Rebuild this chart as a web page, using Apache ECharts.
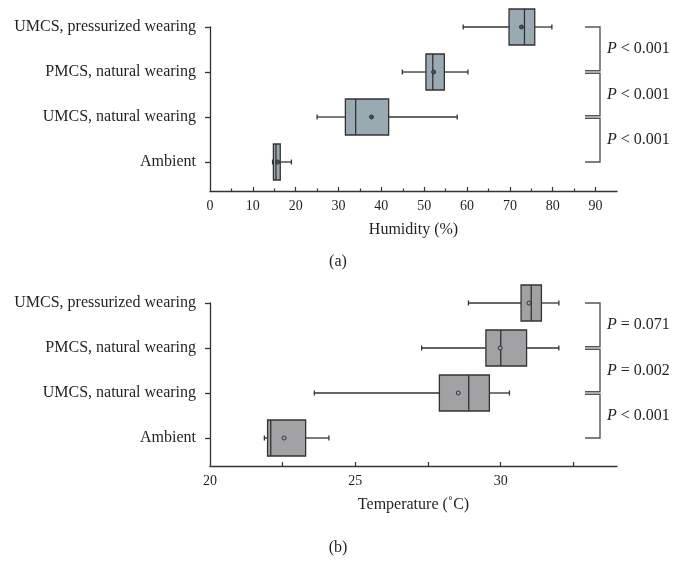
<!DOCTYPE html>
<html><head><meta charset="utf-8">
<script src="https://cdn.jsdelivr.net/npm/echarts@6/dist/echarts.min.js"></script>
<style>html,body{margin:0;padding:0;background:#fff}#c{width:683px;height:569px}</style>
</head><body><div id="c"></div>
<script>
// Categories, bottom to top (y value 1..4)
const categories = ['Ambient', 'UMCS, natural wearing', 'PMCS, natural wearing', 'UMCS, pressurized wearing'];
const catValues = [1, 2, 3, 4];

// (a) Humidity (%)
const humLow  = [14.6, 25.0, 44.9, 59.1];
const humQ1   = [14.8, 31.6, 50.4, 69.8];
const humMed  = [15.4, 34.0, 52.0, 73.4];
const humQ3   = [16.4, 41.7, 54.7, 75.8];
const humHigh = [19.0, 57.7, 60.2, 79.8];
const humMean = [15.8, 37.7, 52.2, 72.7];
const humTicks = [0, 10, 20, 30, 40, 50, 60, 70, 80, 90];
const humMinorTicks = [5, 15, 25, 35, 45, 55, 65, 75, 85];
const humP = ['< 0.001', '< 0.001', '< 0.001']; // brackets bottom to top

// (b) Temperature (°C)
const tmpLow  = [21.87, 23.59, 27.28, 28.89];
const tmpQ1   = [21.98, 27.89, 29.49, 30.70];
const tmpMed  = [22.09, 28.90, 30.00, 31.05];
const tmpQ3   = [23.29, 29.61, 30.89, 31.40];
const tmpHigh = [24.09, 30.30, 32.00, 32.00];
const tmpMean = [22.55, 28.54, 29.98, 30.97];
const tmpTicks = [20, 25, 30];
const tmpMinorTicks = [22.5, 27.5, 32.5];
const tmpP = ['< 0.001', '= 0.002', '= 0.071'];

const FONT = 'Liberation Serif';
const TXT = '#231f20';
const LINE = '#333333';

function boxData(lo, q1, med, q3, hi, mean) {
  return catValues.map((c, i) => [c, lo[i], q1[i], med[i], q3[i], hi[i], mean[i]]);
}
function bracketData(labels) {
  return labels.map((s, i) => [catValues[i], catValues[i + 1], i]);
}

function boxRender(fill, meanFill) {
  return function (params, api) {
    const c = api.value(0);
    const p = [1, 2, 3, 4, 5, 6].map(k => api.coord([api.value(k), c]));
    const y = p[0][1];
    const h = api.size([0, 1])[1] * 0.4;
    const ls = { stroke: LINE, lineWidth: 1.3 };
    return {
      type: 'group', children: [
        { type: 'line', shape: { x1: p[0][0], y1: y, x2: p[1][0], y2: y }, style: ls },
        { type: 'line', shape: { x1: p[3][0], y1: y, x2: p[4][0], y2: y }, style: ls },
        { type: 'line', shape: { x1: p[0][0], y1: y - 2.5, x2: p[0][0], y2: y + 2.5 }, style: ls },
        { type: 'line', shape: { x1: p[4][0], y1: y - 2.5, x2: p[4][0], y2: y + 2.5 }, style: ls },
        { type: 'rect', shape: { x: p[1][0], y: y - h, width: p[3][0] - p[1][0], height: 2 * h }, style: { fill: fill, stroke: LINE, lineWidth: 1.3 } },
        { type: 'line', shape: { x1: p[2][0], y1: y - h, x2: p[2][0], y2: y + h }, style: ls },
        { type: 'circle', shape: { cx: p[5][0], cy: y, r: 2 }, style: { fill: meanFill, stroke: LINE, lineWidth: 1 } }
      ]
    };
  };
}

function bracketRender(labels) {
  return function (params, api) {
    const lo = api.value(0), hi = api.value(1), idx = api.value(2);
    const cs = params.coordSys;
    const right = cs.x + cs.width;
    const vx = right - 17;
    const ax = right - 32;
    const yBot = api.coord([0, lo])[1] - (idx === 0 ? 0 : 1.2);
    const yTop = api.coord([0, hi])[1] + (idx === labels.length - 1 ? 0 : 1.2);
    return {
      type: 'group', children: [
        { type: 'polyline', shape: { points: [[ax, yTop], [vx, yTop], [vx, yBot], [ax, yBot]] }, style: { fill: 'none', stroke: '#555', lineWidth: 1.4 } },
        { type: 'text', x: vx + 7, y: (yTop + yBot) / 2, style: {
            text: '{i|P} ' + labels[idx], fill: TXT, fontFamily: FONT, fontSize: 16,
            verticalAlign: 'middle', align: 'left',
            rich: { i: { fontStyle: 'italic', fontFamily: FONT, fontSize: 16, fill: TXT } }
          } }
      ]
    };
  };
}

function yAxis(gi, min) {
  return {
    type: 'value', gridIndex: gi, min: min, max: 4,
    axisLine: { show: true, lineStyle: { color: LINE, width: 1.3 } },
    axisTick: { show: true, inside: false, length: 5, customValues: catValues, lineStyle: { color: LINE, width: 1.3 } },
    axisLabel: { show: true, customValues: catValues, margin: 14, color: TXT, fontFamily: FONT, fontSize: 16,
      formatter: v => categories[Math.round(v) - 1] || '' },
    splitLine: { show: false }
  };
}
function xAxisMain(gi, min, max, ticks, name) {
  return {
    type: 'value', gridIndex: gi, min: min, max: max, position: 'bottom',
    name: name, nameLocation: 'middle', nameGap: 31,
    nameTextStyle: { color: TXT, fontFamily: FONT, fontSize: 16 },
    axisLine: { show: true, onZero: false, lineStyle: { color: LINE, width: 1.3 } },
    axisTick: { show: true, inside: true, length: 4, customValues: ticks.slice(1), lineStyle: { color: LINE, width: 1.2 } },
    axisLabel: { show: true, customValues: ticks, margin: 8, color: TXT, fontFamily: FONT, fontSize: 14 },
    splitLine: { show: false }
  };
}
function xAxisMinor(gi, min, max, ticks, len) {
  return {
    type: 'value', gridIndex: gi, min: min, max: max, position: 'bottom',
    axisLine: { show: false, onZero: false },
    axisTick: { show: true, inside: true, length: len, customValues: ticks, lineStyle: { color: LINE, width: 1.2 } },
    axisLabel: { show: false },
    splitLine: { show: false }
  };
}

const chart = echarts.init(document.getElementById('c'), null, { renderer: 'canvas' });
chart.setOption({
  animation: false,
  backgroundColor: '#ffffff',
  grid: [
    { left: 210, top: 27, width: 407, height: 164 },
    { left: 210, top: 303, width: 407, height: 163 }
  ],
  xAxis: [
    xAxisMain(0, 0, 95, humTicks, 'Humidity (%)'),
    xAxisMinor(0, 0, 95, humMinorTicks, 2.5),
    xAxisMain(1, 20, 34, tmpTicks, 'Temperature (\u02DAC)'),
    xAxisMinor(1, 20, 34, tmpMinorTicks, 4)
  ],
  yAxis: [yAxis(0, 0.356), yAxis(1, 0.378)],
  graphic: [
    { type: 'text', x: 338, y: 262, style: { text: '(a)', fill: TXT, fontFamily: FONT, fontSize: 16, align: 'center', verticalAlign: 'middle' } },
    { type: 'text', x: 338, y: 548, style: { text: '(b)', fill: TXT, fontFamily: FONT, fontSize: 16, align: 'center', verticalAlign: 'middle' } }
  ],
  series: [
    { type: 'custom', xAxisIndex: 0, yAxisIndex: 0, clip: false,
      encode: { x: [1, 2, 3, 4, 5, 6], y: 0 },
      data: boxData(humLow, humQ1, humMed, humQ3, humHigh, humMean),
      renderItem: boxRender('#9aaab3', '#4a4f55') },
    { type: 'custom', xAxisIndex: 0, yAxisIndex: 0, clip: false,
      encode: { y: [0, 1] },
      data: bracketData(humP), renderItem: bracketRender(humP) },
    { type: 'custom', xAxisIndex: 2, yAxisIndex: 1, clip: false,
      encode: { x: [1, 2, 3, 4, 5, 6], y: 0 },
      data: boxData(tmpLow, tmpQ1, tmpMed, tmpQ3, tmpHigh, tmpMean),
      renderItem: boxRender('#a2a2a5', '#a2a2a5') },
    { type: 'custom', xAxisIndex: 2, yAxisIndex: 1, clip: false,
      encode: { y: [0, 1] },
      data: bracketData(tmpP), renderItem: bracketRender(tmpP) }
  ]
});
</script>
</body></html>
